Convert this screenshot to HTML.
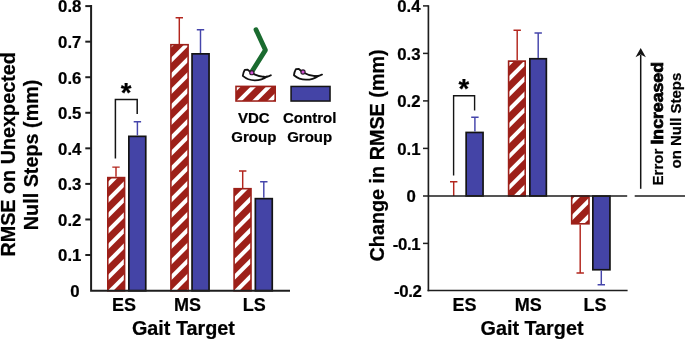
<!DOCTYPE html>
<html><head><meta charset="utf-8"><title>chart</title>
<style>
html,body{margin:0;padding:0;background:#fff;}
svg{display:block;will-change:transform;}
text{font-family:"Liberation Sans",sans-serif;font-weight:bold;fill:#000;stroke:#000;stroke-width:0.22px;}
</style></head><body>
<svg width="685" height="339" viewBox="0 0 685 339">
<rect width="685" height="339" fill="#fff"/>
<rect x="107.00" y="176.80" width="18.40" height="114.80" fill="#9d2019"/>
<clipPath id="rc0"><rect x="108.60" y="178.40" width="15.20" height="111.60"/></clipPath>
<g clip-path="url(#rc0)" stroke="#fff" stroke-width="4.031">
<line x1="105.60" y1="187.06" x2="126.80" y2="165.86"/>
<line x1="105.60" y1="202.57" x2="126.80" y2="181.37"/>
<line x1="105.60" y1="218.08" x2="126.80" y2="196.88"/>
<line x1="105.60" y1="233.59" x2="126.80" y2="212.39"/>
<line x1="105.60" y1="249.10" x2="126.80" y2="227.90"/>
<line x1="105.60" y1="264.61" x2="126.80" y2="243.41"/>
<line x1="105.60" y1="280.12" x2="126.80" y2="258.92"/>
<line x1="105.60" y1="295.63" x2="126.80" y2="274.43"/>
<line x1="105.60" y1="311.14" x2="126.80" y2="289.94"/>
</g>
<rect x="170.10" y="43.90" width="18.80" height="247.70" fill="#9d2019"/>
<clipPath id="rc1"><rect x="171.70" y="45.50" width="15.60" height="244.50"/></clipPath>
<g clip-path="url(#rc1)" stroke="#fff" stroke-width="4.031">
<line x1="168.70" y1="47.31" x2="190.30" y2="25.71"/>
<line x1="168.70" y1="62.82" x2="190.30" y2="41.22"/>
<line x1="168.70" y1="78.33" x2="190.30" y2="56.73"/>
<line x1="168.70" y1="93.84" x2="190.30" y2="72.24"/>
<line x1="168.70" y1="109.35" x2="190.30" y2="87.75"/>
<line x1="168.70" y1="124.86" x2="190.30" y2="103.26"/>
<line x1="168.70" y1="140.37" x2="190.30" y2="118.77"/>
<line x1="168.70" y1="155.88" x2="190.30" y2="134.28"/>
<line x1="168.70" y1="171.39" x2="190.30" y2="149.79"/>
<line x1="168.70" y1="186.90" x2="190.30" y2="165.30"/>
<line x1="168.70" y1="202.41" x2="190.30" y2="180.81"/>
<line x1="168.70" y1="217.92" x2="190.30" y2="196.32"/>
<line x1="168.70" y1="233.43" x2="190.30" y2="211.83"/>
<line x1="168.70" y1="248.94" x2="190.30" y2="227.34"/>
<line x1="168.70" y1="264.45" x2="190.30" y2="242.85"/>
<line x1="168.70" y1="279.96" x2="190.30" y2="258.36"/>
<line x1="168.70" y1="295.47" x2="190.30" y2="273.87"/>
<line x1="168.70" y1="310.98" x2="190.30" y2="289.38"/>
</g>
<rect x="233.30" y="187.90" width="18.50" height="103.70" fill="#9d2019"/>
<clipPath id="rc2"><rect x="234.90" y="189.50" width="15.30" height="100.50"/></clipPath>
<g clip-path="url(#rc2)" stroke="#fff" stroke-width="4.031">
<line x1="231.90" y1="202.25" x2="253.20" y2="180.95"/>
<line x1="231.90" y1="217.76" x2="253.20" y2="196.46"/>
<line x1="231.90" y1="233.27" x2="253.20" y2="211.97"/>
<line x1="231.90" y1="248.78" x2="253.20" y2="227.48"/>
<line x1="231.90" y1="264.29" x2="253.20" y2="242.99"/>
<line x1="231.90" y1="279.80" x2="253.20" y2="258.50"/>
<line x1="231.90" y1="295.31" x2="253.20" y2="274.01"/>
<line x1="231.90" y1="310.82" x2="253.20" y2="289.52"/>
</g>
<rect x="235.20" y="85.60" width="40.80" height="16.20" fill="#9d2019"/>
<clipPath id="rc3"><rect x="236.80" y="87.20" width="37.60" height="13.00"/></clipPath>
<g clip-path="url(#rc3)" stroke="#fff" stroke-width="4.031">
<line x1="233.80" y1="90.78" x2="277.40" y2="47.18"/>
<line x1="233.80" y1="106.29" x2="277.40" y2="62.69"/>
<line x1="233.80" y1="121.80" x2="277.40" y2="78.20"/>
<line x1="233.80" y1="137.31" x2="277.40" y2="93.71"/>
</g>
<rect x="507.80" y="60.30" width="18.20" height="136.50" fill="#9d2019"/>
<clipPath id="rc4"><rect x="509.40" y="61.90" width="15.00" height="133.30"/></clipPath>
<g clip-path="url(#rc4)" stroke="#fff" stroke-width="4.031">
<line x1="506.40" y1="66.04" x2="527.40" y2="45.04"/>
<line x1="506.40" y1="81.55" x2="527.40" y2="60.55"/>
<line x1="506.40" y1="97.06" x2="527.40" y2="76.06"/>
<line x1="506.40" y1="112.57" x2="527.40" y2="91.57"/>
<line x1="506.40" y1="128.08" x2="527.40" y2="107.08"/>
<line x1="506.40" y1="143.59" x2="527.40" y2="122.59"/>
<line x1="506.40" y1="159.10" x2="527.40" y2="138.10"/>
<line x1="506.40" y1="174.61" x2="527.40" y2="153.61"/>
<line x1="506.40" y1="190.12" x2="527.40" y2="169.12"/>
<line x1="506.40" y1="205.63" x2="527.40" y2="184.63"/>
</g>
<rect x="570.90" y="195.20" width="18.90" height="29.40" fill="#9d2019"/>
<clipPath id="rc5"><rect x="572.50" y="196.80" width="15.70" height="26.20"/></clipPath>
<g clip-path="url(#rc5)" stroke="#fff" stroke-width="4.031">
<line x1="569.50" y1="204.57" x2="591.20" y2="182.87"/>
<line x1="569.50" y1="220.08" x2="591.20" y2="198.38"/>
<line x1="569.50" y1="235.59" x2="591.20" y2="213.89"/>
</g>
<rect x="128.00" y="135.50" width="18.60" height="156.10" fill="#141414"/>
<rect x="129.70" y="137.20" width="15.20" height="152.70" fill="#4444a6"/>
<rect x="191.20" y="53.00" width="18.70" height="238.60" fill="#141414"/>
<rect x="192.90" y="54.70" width="15.30" height="235.20" fill="#4444a6"/>
<rect x="254.50" y="197.80" width="18.60" height="93.80" fill="#141414"/>
<rect x="256.20" y="199.50" width="15.20" height="90.40" fill="#4444a6"/>
<rect x="290.30" y="85.70" width="40.50" height="16.10" fill="#141414"/>
<rect x="291.80" y="87.20" width="37.50" height="13.10" fill="#4444a6"/>
<rect x="465.30" y="131.60" width="18.60" height="65.20" fill="#141414"/>
<rect x="467.00" y="133.30" width="15.20" height="61.80" fill="#4444a6"/>
<rect x="529.00" y="57.90" width="18.20" height="138.90" fill="#141414"/>
<rect x="530.70" y="59.60" width="14.80" height="135.50" fill="#4444a6"/>
<rect x="592.00" y="195.20" width="18.80" height="75.40" fill="#141414"/>
<rect x="593.70" y="196.90" width="15.40" height="72.00" fill="#4444a6"/>
<path d="M116.00 176.80V167.10M112.30 167.10H119.70" stroke="#b3261e" stroke-width="1.45" fill="none"/>
<path d="M137.40 135.50V121.70M133.70 121.70H141.10" stroke="#4545ab" stroke-width="1.45" fill="none"/>
<path d="M179.30 43.90V17.70M175.60 17.70H183.00" stroke="#b3261e" stroke-width="1.45" fill="none"/>
<path d="M200.50 53.00V29.80M196.80 29.80H204.20" stroke="#4545ab" stroke-width="1.45" fill="none"/>
<path d="M242.70 187.90V170.90M239.00 170.90H246.40" stroke="#b3261e" stroke-width="1.45" fill="none"/>
<path d="M263.80 197.80V181.70M260.10 181.70H267.50" stroke="#4545ab" stroke-width="1.45" fill="none"/>
<path d="M453.70 196.00V181.80M450.00 181.80H457.40" stroke="#b3261e" stroke-width="1.45" fill="none"/>
<path d="M474.90 131.60V117.30M471.20 117.30H478.60" stroke="#4545ab" stroke-width="1.45" fill="none"/>
<path d="M517.20 60.30V30.30M513.50 30.30H520.90" stroke="#b3261e" stroke-width="1.45" fill="none"/>
<path d="M538.20 57.90V32.90M534.50 32.90H541.90" stroke="#4545ab" stroke-width="1.45" fill="none"/>
<path d="M580.20 224.60V273.00M576.50 273.00H583.90" stroke="#b3261e" stroke-width="1.45" fill="none"/>
<path d="M601.30 270.60V284.80M597.60 284.80H605.00" stroke="#4545ab" stroke-width="1.45" fill="none"/>
<path d="M91.1 4.9V290.8H290" stroke="#1e1e1e" stroke-width="2" fill="none" stroke-linejoin="miter"/>
<line x1="85.3" x2="91" y1="6.10" y2="6.10" stroke="#1e1e1e" stroke-width="2"/>
<line x1="85.3" x2="91" y1="41.66" y2="41.66" stroke="#1e1e1e" stroke-width="2"/>
<line x1="85.3" x2="91" y1="77.22" y2="77.22" stroke="#1e1e1e" stroke-width="2"/>
<line x1="85.3" x2="91" y1="112.78" y2="112.78" stroke="#1e1e1e" stroke-width="2"/>
<line x1="85.3" x2="91" y1="148.34" y2="148.34" stroke="#1e1e1e" stroke-width="2"/>
<line x1="85.3" x2="91" y1="183.90" y2="183.90" stroke="#1e1e1e" stroke-width="2"/>
<line x1="85.3" x2="91" y1="219.46" y2="219.46" stroke="#1e1e1e" stroke-width="2"/>
<line x1="85.3" x2="91" y1="255.02" y2="255.02" stroke="#1e1e1e" stroke-width="2"/>
<text x="81.4" y="12.40" font-size="16.8" text-anchor="end">0.8</text>
<text x="81.4" y="47.96" font-size="16.8" text-anchor="end">0.7</text>
<text x="81.4" y="83.52" font-size="16.8" text-anchor="end">0.6</text>
<text x="81.4" y="119.08" font-size="16.8" text-anchor="end">0.5</text>
<text x="81.4" y="154.64" font-size="16.8" text-anchor="end">0.4</text>
<text x="81.4" y="190.20" font-size="16.8" text-anchor="end">0.3</text>
<text x="81.4" y="225.76" font-size="16.8" text-anchor="end">0.2</text>
<text x="81.4" y="261.32" font-size="16.8" text-anchor="end">0.1</text>
<text x="79.6" y="297.10" font-size="16.8" text-anchor="end">0</text>
<path d="M428.4 5.2V291.3" stroke="#1e1e1e" stroke-width="1.65" fill="none"/>
<path d="M427.6 290.5H627.6" stroke="#1e1e1e" stroke-width="1.7" fill="none"/>
<path d="M423 196.0H627.2M634.7 196.0H685" stroke="#1e1e1e" stroke-width="1.7" fill="none"/>
<line x1="423" x2="428.4" y1="5.90" y2="5.90" stroke="#1e1e1e" stroke-width="1.5"/>
<text x="420.5" y="12.20" font-size="16.8" text-anchor="end">0.4</text>
<line x1="423" x2="428.4" y1="53.40" y2="53.40" stroke="#1e1e1e" stroke-width="1.5"/>
<text x="420.5" y="59.70" font-size="16.8" text-anchor="end">0.3</text>
<line x1="423" x2="428.4" y1="100.90" y2="100.90" stroke="#1e1e1e" stroke-width="1.5"/>
<text x="420.5" y="107.20" font-size="16.8" text-anchor="end">0.2</text>
<line x1="423" x2="428.4" y1="148.40" y2="148.40" stroke="#1e1e1e" stroke-width="1.5"/>
<text x="420.5" y="154.70" font-size="16.8" text-anchor="end">0.1</text>
<text x="415.8" y="202.20" font-size="16.8" text-anchor="end">0</text>
<line x1="423" x2="428.4" y1="243.40" y2="243.40" stroke="#1e1e1e" stroke-width="1.5"/>
<text x="420.2" y="249.70" font-size="16.8" text-anchor="end" letter-spacing="-0.35">-0.1</text>
<text x="421.6" y="296.70" font-size="16.8" text-anchor="end" letter-spacing="-0.35">-0.2</text>
<text x="124" y="310.9" font-size="18" text-anchor="middle">ES</text>
<text x="187.6" y="310.9" font-size="18" text-anchor="middle">MS</text>
<text x="254.3" y="310.9" font-size="18" text-anchor="middle">LS</text>
<text x="464.5" y="310.9" font-size="18" text-anchor="middle">ES</text>
<text x="528.3" y="310.9" font-size="18" text-anchor="middle">MS</text>
<text x="595" y="310.9" font-size="18" text-anchor="middle">LS</text>
<text x="183.4" y="334.7" font-size="19.8" text-anchor="middle">Gait Target</text>
<text x="532" y="334.7" font-size="19.8" text-anchor="middle">Gait Target</text>
<text transform="translate(14.8 154.4) rotate(-90)" font-size="19.8" text-anchor="middle">RMSE on Unexpected</text>
<text transform="translate(38.2 154.9) rotate(-90)" font-size="19.8" text-anchor="middle">Null Steps (mm)</text>
<text transform="translate(383.8 155.4) rotate(-90)" font-size="19.8" text-anchor="middle">Change in RMSE (mm)</text>
<path d="M115.4 158.6V99.5H137.2V114.1" stroke="#141414" stroke-width="1.5" fill="none"/>
<path d="M453.6 175.6V95.8H474.6V110.6" stroke="#141414" stroke-width="1.4" fill="none"/>
<text x="126" y="101.6" font-size="27.5" text-anchor="middle">*</text>
<text x="463.9" y="97.7" font-size="27.5" text-anchor="middle">*</text>
<text x="253.8" y="123.4" font-size="15" text-anchor="middle">VDC</text>
<text x="253.8" y="141.5" font-size="15" text-anchor="middle">Group</text>
<text x="309.7" y="123.4" font-size="15" text-anchor="middle">Control</text>
<text x="309.7" y="141.5" font-size="15" text-anchor="middle">Group</text>
<path d="M256 29.7L265.4 50.1L251.5 72.2" stroke="#1a6b2f" stroke-width="4.8" fill="none" stroke-linecap="round" stroke-linejoin="round"/>
<g transform="translate(0 0)" fill="#fff" stroke="#111" stroke-width="1.3" stroke-linejoin="round" stroke-linecap="round">
<path d="M244.7 69.9L247.7 69.7L251.6 72.9C255 74.9 260 76.5 264 76.8C265.5 76.9 266.5 76.8 267.2 76.6C264 78.9 259.5 80.4 254.8 80.4C249.8 80.3 245.6 78.3 242.8 75.9C243.1 73.5 243.7 71.5 244.7 69.9Z" stroke-width="1.8"/>
<path d="M263.5 76.75C266.8 77.1 269.3 76.4 270.9 75.3" fill="none" stroke-width="1.8"/>
<circle cx="251.85" cy="72.65" r="2.1" fill="#cf4fd3" stroke="#2a1a2a" stroke-width="1.15"/>
</g>
<g transform="translate(51.15 -0.7)" fill="#fff" stroke="#111" stroke-width="1.3" stroke-linejoin="round" stroke-linecap="round">
<path d="M244.7 69.9L247.7 69.7L251.6 72.9C255 74.9 260 76.5 264 76.8C265.5 76.9 266.5 76.8 267.2 76.6C264 78.9 259.5 80.4 254.8 80.4C249.8 80.3 245.6 78.3 242.8 75.9C243.1 73.5 243.7 71.5 244.7 69.9Z" stroke-width="1.8"/>
<path d="M263.5 76.75C266.8 77.1 269.3 76.4 270.9 75.3" fill="none" stroke-width="1.8"/>
<circle cx="251.85" cy="72.65" r="2.1" fill="#cf4fd3" stroke="#2a1a2a" stroke-width="1.15"/>
</g>
<path d="M640.7 188.8V55" stroke="#141414" stroke-width="1.5" fill="none"/>
<path d="M640.7 48L645.9 57.2L640.7 54.6L635.5 57.2Z" fill="#141414"/>
<text transform="translate(663.2 185.4) rotate(-90)" font-size="15">Error <tspan font-size="16.3" stroke="#000" stroke-width="0.75" textLength="82.5" lengthAdjust="spacingAndGlyphs">Increased</tspan></text>
<text transform="translate(680.6 168.5) rotate(-90)" font-size="15">on Null Steps</text>
</svg></body></html>
